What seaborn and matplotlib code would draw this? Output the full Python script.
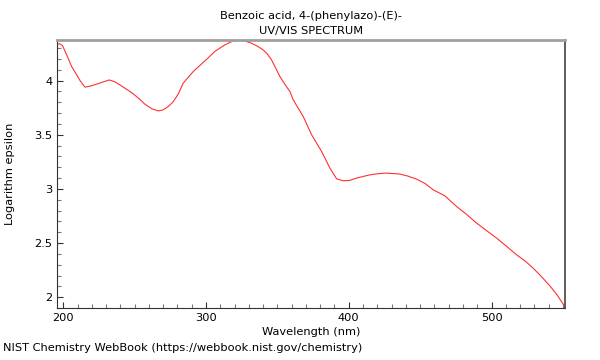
import matplotlib
matplotlib.use("Agg")
import matplotlib.pyplot as plt
from matplotlib.ticker import MultipleLocator
import seaborn as sns
import pandas as pd

# values
wavelength = [195.8, 197.6, 199.5, 202.4, 205.9, 209.4, 212.0, 215.2, 219.0, 223.4,
              228.0, 232.2, 236.0, 239.7, 247.9, 252.5, 257.2, 262.0, 266.5, 270.0,
              273.5, 277.0, 280.5, 284.0, 287.5, 291.0, 296.5, 301.5, 306.2, 313.2,
              318.0, 322.5, 327.0, 331.9, 336.0, 340.1, 343.0, 345.9, 351.8, 355.5,
              358.8, 361.1, 368.1, 374.0, 381.0, 386.8, 391.5, 396.1, 400.5, 405.5,
              414.8, 420.5, 426.5, 435.8, 441.5, 447.5, 453.5, 459.1, 467.3, 475.5,
              482.5, 489.5, 496.5, 503.5, 510.5, 517.5, 523.5, 529.1, 535.0, 540.8,
              546.0, 551.3]
log_eps = [4.336, 4.340, 4.322, 4.237, 4.129, 4.053, 3.995, 3.939, 3.950, 3.967,
           3.988, 4.006, 3.990, 3.960, 3.889, 3.840, 3.782, 3.740, 3.720, 3.730,
           3.760, 3.805, 3.875, 3.976, 4.030, 4.083, 4.150, 4.210, 4.270, 4.330,
           4.360, 4.375, 4.366, 4.345, 4.318, 4.283, 4.245, 4.191, 4.037, 3.960,
           3.899, 3.822, 3.668, 3.499, 3.345, 3.192, 3.093, 3.075, 3.078, 3.100,
           3.130, 3.140, 3.146, 3.137, 3.118, 3.090, 3.050, 2.992, 2.936, 2.838,
           2.765, 2.685, 2.615, 2.546, 2.470, 2.392, 2.335, 2.269, 2.190, 2.106,
           2.020, 1.915]

df = pd.DataFrame({"wavelength": wavelength, "log_eps": log_eps})

sns.set_style("ticks")
plt.rcParams["font.family"] = ["DejaVu Sans"]
plt.rcParams["font.size"] = 8.2
plt.rcParams["text.color"] = "black"
plt.rcParams["axes.labelcolor"] = "black"
plt.rcParams["xtick.labelcolor"] = "black"
plt.rcParams["ytick.labelcolor"] = "black"

fig = plt.figure(figsize=(6, 3.6), dpi=100)
ax = fig.add_axes([0.095, 0.1444, 0.8467, 0.7445])

sns.lineplot(data=df, x="wavelength", y="log_eps", color="#ff3030",
             linewidth=0.8, ax=ax)

ax.set_xlim(195.6, 551.5)
ax.set_ylim(1.90, 4.375)
ax.xaxis.set_major_locator(MultipleLocator(100))
ax.xaxis.set_minor_locator(MultipleLocator(10))
ax.yaxis.set_major_locator(MultipleLocator(0.5))
ax.yaxis.set_minor_locator(MultipleLocator(0.1))
ax.yaxis.set_major_formatter(plt.FuncFormatter(lambda v, p: f"{v:g}"))
ax.tick_params(which="both", direction="in", labelsize=8.2, color="#333333",
               labelcolor="black")
ax.tick_params(which="major", length=4, width=0.8)
ax.tick_params(which="minor", length=3, width=0.8, color="#777777")

ax.spines["top"].set_color("#a0a0a0")
ax.spines["top"].set_linewidth(2)
ax.spines["right"].set_color("#505050")
ax.spines["right"].set_linewidth(1.3)
ax.spines["left"].set_color("#333333")
ax.spines["bottom"].set_color("#333333")
ax.spines["left"].set_linewidth(0.8)
ax.spines["bottom"].set_linewidth(0.8)

ax.set_xlabel("Wavelength (nm)", fontsize=8.2, labelpad=3)
ax.set_ylabel("Logarithm epsilon", fontsize=8.2, labelpad=14)
ax.set_title("Benzoic acid, 4-(phenylazo)-(E)-\nUV/VIS SPECTRUM", fontsize=8.2,
             pad=4, linespacing=1.7, color="black")

fig.text(0.005, 0.02, "NIST Chemistry WebBook (https://webbook.nist.gov/chemistry)",
         fontsize=8.2, ha="left", va="bottom", color="black")

fig.savefig("out.png", dpi=100)
